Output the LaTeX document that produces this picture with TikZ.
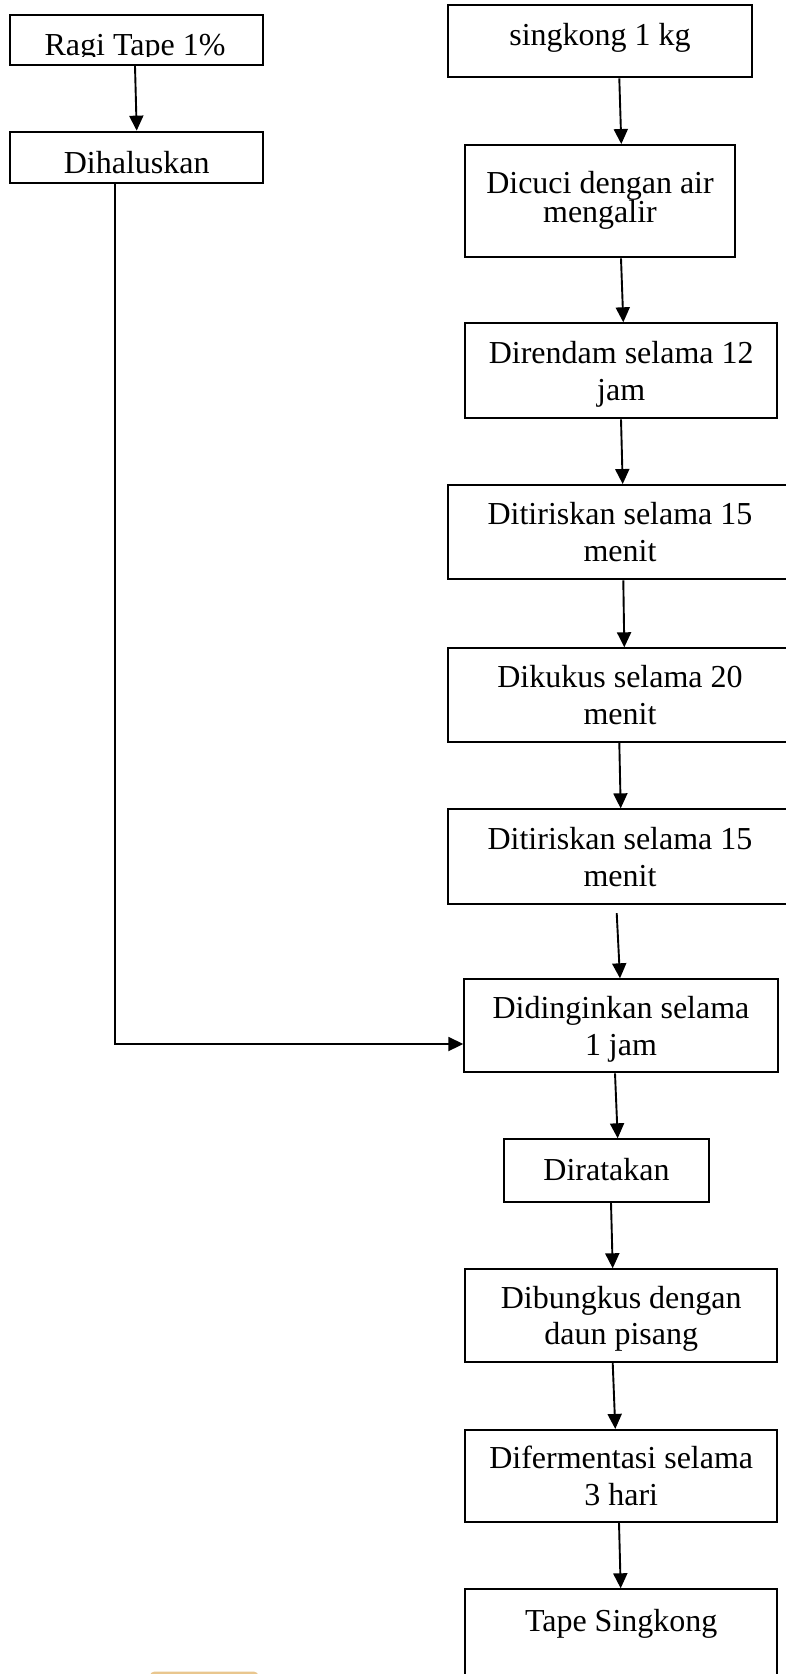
\documentclass[tikz,border=0pt]{standalone}
\usepackage{fontspec}
\setmainfont{Liberation Serif}
\usetikzlibrary{arrows.meta,calc}
\definecolor{sliver}{RGB}{233,198,142}
\begin{document}
\begin{tikzpicture}[x=1pt,y=-1pt,
  box/.style={draw=black, line width=2pt, inner sep=0pt, align=center,
    font=\fontsize{32pt}{36.7pt}\selectfont},
  two/.style={text height=58.7pt, text depth=0pt},
  arr/.style={line width=1.9pt, -{Triangle[length=15pt,width=14pt]}}]
\useasboundingbox (0,0) rectangle (785,1674);

% left column
\node[box, minimum width=253.3pt, minimum height=50pt] (ragi) at (136.7,40) {};
\begin{scope}
  \clip (12,17) rectangle (261,56);
  \node[inner sep=0pt, anchor=base, font=\fontsize{32pt}{36.7pt}\selectfont] (ragitext) at (135,55) {Ragi Tape 1\%};
\end{scope}
\node[box, text height=31.6pt, text depth=0pt, minimum width=253.3pt, minimum height=51.7pt] (halus) at (136.7,157.5) {Dihaluskan};

% right column
\node[box, text height=9pt, text depth=0pt, minimum width=303.4pt, minimum height=72.3pt] (singkong) at (600,41.2) {singkong 1 kg};
\node[box, text height=43pt, text depth=0pt, font=\fontsize{32pt}{29.4pt}\selectfont, minimum width=270pt, minimum height=112.3pt] (cuci) at (600,201.2) {Dicuci dengan air\\mengalir};
\node[box, two, minimum width=312.3pt, minimum height=95pt] (rendam) at (621.2,370.8) {Direndam selama 12\\jam};
\node[box, two, minimum width=343.4pt, minimum height=94.3pt] (tiris1) at (620,532.2) {Ditiriskan selama 15\\menit};
\node[box, two, minimum width=343.4pt, minimum height=93.4pt] (kukus) at (620,695) {Dikukus selama 20\\menit};
\node[box, two, minimum width=343.4pt, minimum height=94.7pt] (tiris2) at (620,856.7) {Ditiriskan selama 15\\menit};
\node[box, two, minimum width=313.4pt, minimum height=93pt] (dingin) at (621,1025.8) {Didinginkan selama\\1 jam};
\node[box, text height=19pt, text depth=0pt, minimum width=205pt, minimum height=62.4pt] (rata) at (606.5,1170.5) {Diratakan};
\node[box, two, minimum width=312.3pt, minimum height=92.4pt] (bungkus) at (621.2,1315.5) {Dibungkus dengan\\daun pisang};
\node[box, two, minimum width=312.3pt, minimum height=91.7pt] (fermen) at (621.2,1475.8) {Difermentasi selama\\3 hari};
\node[box, text height=0pt, text depth=8.2pt, minimum width=312.3pt, minimum height=93pt] (tape) at (621.2,1635.8) {Tape Singkong};

% connectors
\draw[arr] (ragi.south -| 135,0) -- (halus.north -| 136.7,0);
\draw[arr] (singkong.south -| 619.3,0) -- (cuci.north -| 621.3,0);
\draw[arr] (cuci.south -| 621,0) -- (rendam.north -| 623.3,0);
\draw[arr] (rendam.south -| 621,0) -- (tiris1.north -| 622.7,0);
\draw[arr] (tiris1.south -| 623.3,0) -- (kukus.north -| 624.3,0);
\draw[arr] (kukus.south -| 619.3,0) -- (tiris2.north -| 620.7,0);
\draw[arr] ($(tiris2.south -| 616.7,0)+(0,8)$) -- (dingin.north -| 620,0);
\draw[arr] (dingin.south -| 615,0) -- (rata.north -| 617.7,0);
\draw[arr] (rata.south -| 611,0) -- (bungkus.north -| 612.7,0);
\draw[arr] (bungkus.south -| 612.7,0) -- (fermen.north -| 615.3,0);
\draw[arr] (fermen.south -| 619,0) -- (tape.north -| 620.7,0);

\coordinate (corner) at (115,1044);
\draw[arr] (halus.south -| corner) -- (corner) -- (corner -| dingin.west);

% partly visible shape at the lower edge
\fill[sliver, rounded corners=4pt] (150,1671.7) rectangle (258.3,1700);
\end{tikzpicture}
\end{document}
